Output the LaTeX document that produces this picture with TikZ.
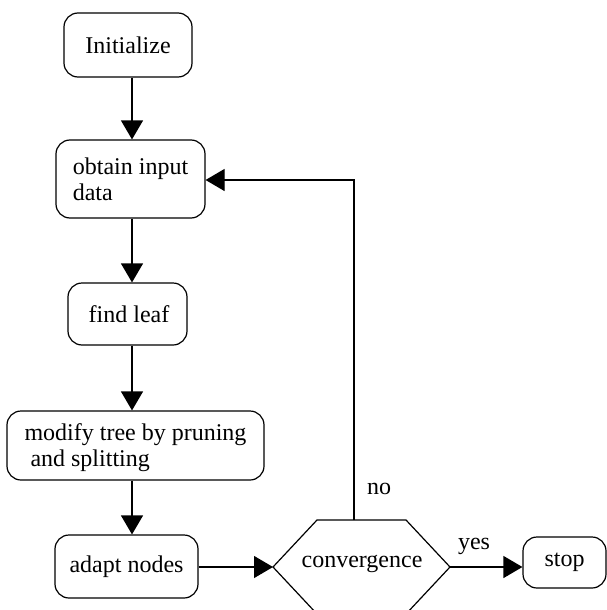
\documentclass[tikz,border=0pt]{standalone}
\usepackage{fontspec}
\setmainfont{Liberation Serif}
\newfontfamily\timesfont{Liberation Serif}
\usetikzlibrary{arrows.meta}
\tikzset{
  every node/.style={font=\timesfont\fontsize{24}{26}\selectfont},
  box/.style={draw, line width=1.2pt, rounded corners=14pt, inner sep=0pt, align=left},
  flow/.style={line width=1.2pt, -{Triangle[width=22pt,length=19pt]}},
  lbl/.style={inner sep=0pt}
}
\begin{document}
\begin{tikzpicture}[x=1pt,y=-1pt]
\useasboundingbox (0,0) rectangle (607,610);
\clip (0,0) rectangle (607,610);
\node[box, minimum width=128pt, minimum height=64pt] (init) at (128,45) {Initialize};
\node[box, minimum width=149pt, minimum height=78pt] (obtain) at (130.5,179) {obtain input\\data};
\node[box, minimum width=119pt, minimum height=62pt] (leaf) at (127.5,314) {\hspace*{3pt}find leaf};
\node[box, minimum width=257pt, minimum height=69pt, text depth=0pt] (modify) at (135.5,445.5) {modify tree by pruning\\\hspace*{6pt}and splitting};
\node[box, minimum width=143pt, minimum height=63pt] (adapt) at (126.5,566.5) {adapt nodes};
\node[box, minimum width=83pt, minimum height=51pt] (stop) at (564.5,562.5) {stop};
% hexagon
\coordinate (hl) at (273,567);
\coordinate (htl) at (317,520);
\coordinate (htr) at (406,520);
\coordinate (hr) at (450,567);
\coordinate (hbr) at (406,614);
\coordinate (hbl) at (317,614);
\coordinate (htop) at (354,520);
\draw[line width=1.2pt] (hl) -- (htl) -- (htr) -- (hr) -- (hbr) -- (hbl) -- cycle;
\node[lbl, anchor=base] (conv) at (362,567) {convergence};
% connectors
\draw[flow] (init.south -| 132,0) -- (obtain.north -| 132,0);
\draw[flow] (obtain.south -| 132,0) -- (leaf.north -| 132,0);
\draw[flow] (leaf.south -| 132,0) -- (modify.north -| 132,0);
\draw[flow] (modify.south -| 132,0) -- (adapt.north -| 132,0);
\draw[flow] (adapt.east |- hl) -- (hl);
\draw[flow] (hr) -- (stop.west |- hr);
\coordinate (corner) at (354,180);
\draw[flow] (htop) -- (corner) -- (obtain.east |- corner);
\node[lbl] (no) at (379,489) {no};
\node[lbl] (yes) at (474,546) {yes};
\end{tikzpicture}
\end{document}
